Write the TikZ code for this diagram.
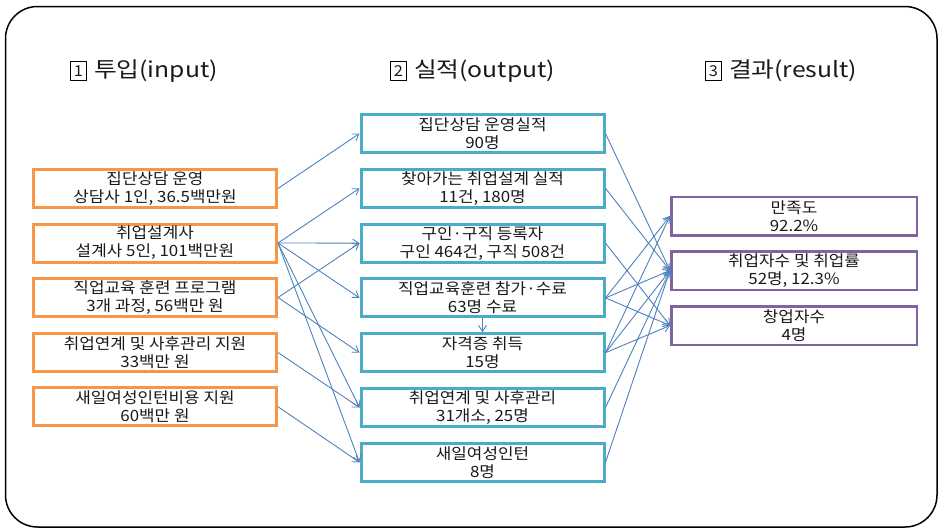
\documentclass[tikz,border=0pt]{standalone}
\usepackage{fontspec}
\setmainfont{Noto Sans CJK KR}[FakeStretch=1.09]
\newfontfamily\headfont{Noto Sans CJK KR}[FakeStretch=1.15]
\usetikzlibrary{arrows.meta}
\definecolor{orangeb}{RGB}{247,150,70}
\definecolor{tealb}{RGB}{75,172,198}
\definecolor{purpb}{RGB}{128,100,162}
\definecolor{linkc}{RGB}{79,129,189}
\definecolor{txt}{RGB}{25,25,25}
\begin{document}
\begin{tikzpicture}[x=1pt,y=-1pt,
  box/.style={draw, line width=3pt, minimum width=243pt, minimum height=38pt, inner sep=0pt, align=center, font=\fontsize{15.5}{18}\selectfont, text=txt},
  inbox/.style={box, draw=orangeb},
  outbox/.style={box, draw=tealb},
  resbox/.style={box, draw=purpb, line width=2.5pt, minimum width=245.5pt, minimum height=38.5pt},
  link/.style={draw=linkc, line width=0.9pt, -{Straight Barb[length=6pt,width=8pt]}},
  head/.style={font=\headfont\fontsize{21.5}{24}\selectfont, anchor=west, inner sep=0pt, text=txt},
  numbox/.style={draw, line width=0.8pt, inner sep=1pt, font=\fontsize{15}{15}\selectfont, minimum width=16pt, minimum height=19pt, anchor=west, text=txt}
]
\useasboundingbox (0,0) rectangle (940,530);
\draw[line width=1.5pt, rounded corners=32pt] (5.5,6.5) rectangle (937,527);

% headings
\node[numbox] (n1) at (70,71) {1};
\node[head] (h1) at ([xshift=7pt]n1.east) {투입(input)};
\node[numbox] (n2) at (390,71) {2};
\node[head] (h2) at ([xshift=7pt]n2.east) {실적(output)};
\node[numbox] (n3) at (705,71) {3};
\node[head] (h3) at ([xshift=7pt]n3.east) {결과(result)};

% inputs
\node[inbox] (L1) at (155,188.5) {집단상담 운영\\상담사 1인, 36.5백만원};
\node[inbox] (L2) at (155,243) {취업설계사\\설계사 5인, 101백만원};
\node[inbox] (L3) at (155,297.5) {직업교육 훈련 프로그램\\3개 과정, 56백만 원};
\node[inbox] (L4) at (155,352.5) {취업연계 및 사후관리 지원\\33백만 원};
\node[inbox] (L5) at (155,406.7) {새일여성인턴비용 지원\\60백만 원};

% outputs
\node[outbox] (M1) at (482.5,133.5) {집단상담 운영실적\\90명};
\node[outbox] (M2) at (482.5,188.3) {찾아가는 취업설계 실적\\11건, 180명};
\node[outbox] (M3) at (482.5,243.1) {구인·구직 등록자\\구인 464건, 구직 508건};
\node[outbox] (M4) at (482.5,297.9) {직업교육훈련 참가·수료\\63명 수료};
\node[outbox] (M5) at (482.5,352.7) {자격증 취득\\15명};
\node[outbox] (M6) at (482.5,407.5) {취업연계 및 사후관리\\31개소, 25명};
\node[outbox] (M7) at (482.5,462.3) {새일여성인턴\\8명};

% results
\node[resbox] (R1) at (794,216) {만족도\\92.2\%};
\node[resbox] (R2) at (794,270.5) {취업자수 및 취업률\\52명, 12.3\%};
\node[resbox] (R3) at (794,325.5) {창업자수\\4명};

% input -> output
\draw[link] (L1.east) -- (M1.west);
\draw[link] (L2.east) -- (M2.west);
\draw[link] (L2.east) -- (M3.west);
\draw[link] (L2.east) -- (M4.west);
\draw[link] (L2.east) -- (M6.west);
\draw[link] (L2.east) -- (M7.west);
\draw[link] (L3.east) -- (M3.west);
\draw[link] (L3.east) -- (M5.west);
\draw[link] (L4.east) -- (M6.west);
\draw[link] (L5.east) -- (M7.west);
\draw[link] (M4.south) -- (M5.north);

% output -> result
\draw[link] (M1.east) -- (R2.west);
\draw[link] (M2.east) -- (R2.west);
\draw[link] (M3.east) -- (R3.west);
\draw[link] (M4.east) -- (R1.west);
\draw[link] (M4.east) -- (R2.west);
\draw[link] (M4.east) -- (R3.west);
\draw[link] (M5.east) -- (R1.west);
\draw[link] (M5.east) -- (R2.west);
\draw[link] (M5.east) -- (R3.west);
\draw[link] (M6.east) -- (R2.west);
\draw[link] (M7.east) -- (R2.west);
\end{tikzpicture}
\end{document}
